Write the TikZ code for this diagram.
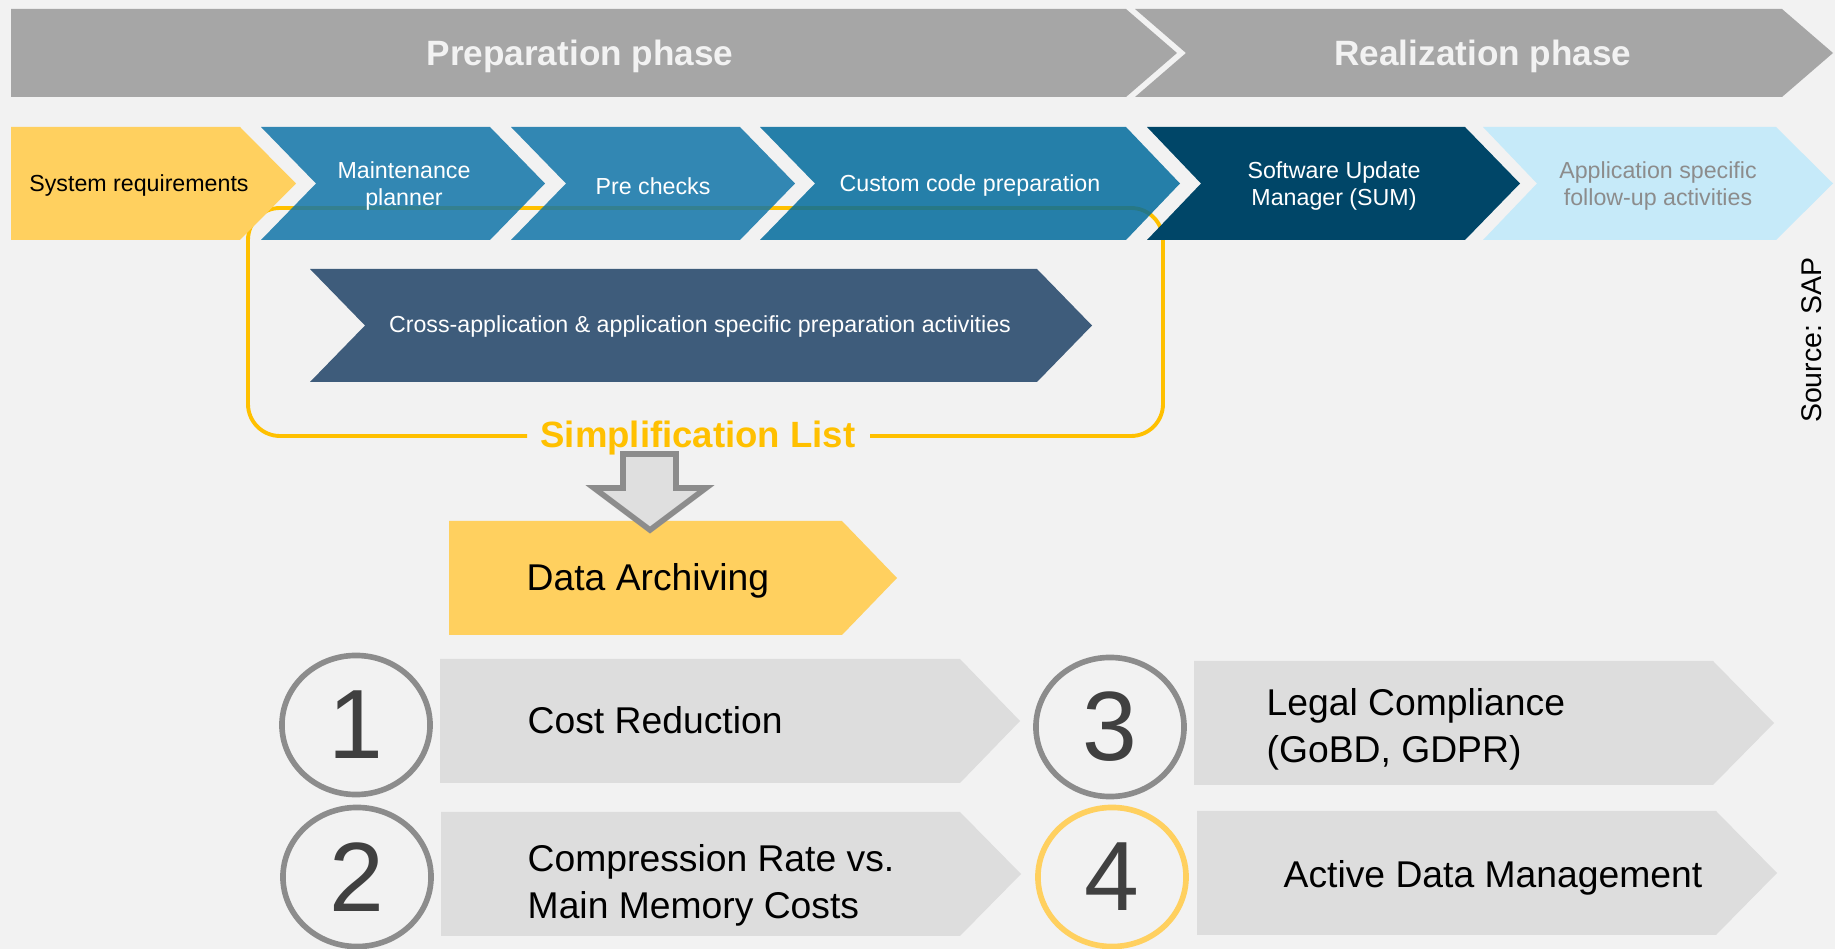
\documentclass[tikz,border=0pt]{standalone}
\usepackage{fontspec}
\setmainfont{Liberation Sans}
\usetikzlibrary{shapes.geometric}

\definecolor{bggray}{HTML}{F2F2F2}
\definecolor{phasegray}{HTML}{A6A6A6}
\definecolor{sapyellow}{HTML}{FFD05F}
\definecolor{stepblue}{HTML}{1175A9}
\definecolor{codeblue}{HTML}{026C9D}
\definecolor{sumblue}{HTML}{004668}
\definecolor{followblue}{HTML}{C6EAF9}
\definecolor{crossblue}{HTML}{3E5C7B}
\definecolor{framegold}{HTML}{FFC000}
\definecolor{ringgray}{HTML}{8C8C8C}
\definecolor{boxgray}{HTML}{DDDDDD}
\definecolor{digitgray}{HTML}{404040}

\tikzset{
    phaselabel/.style={font=\bfseries\fontsize{10}{12}\selectfont, text=bggray, inner sep=0pt},
    steplabel/.style={font=\fontsize{6.6}{7.7}\selectfont, text=white, align=center, inner sep=0pt},
    biglabel/.style={font=\fontsize{10.6}{13.4}\selectfont, align=left, anchor=west, inner sep=0pt},
    numring/.style={ellipse, draw=ringgray, line width=1.6pt, minimum width=1.48cm, minimum height=1.39cm, inner sep=0pt, font=\fontsize{28}{30}\selectfont, text=digitgray}
}

\begin{document}
\begin{tikzpicture}[x=0.01cm, y=-0.01cm]
    \useasboundingbox (0,0) rectangle (1835,949);
    \fill[bggray] (0,0) rectangle (1835,949);

    % phases
    \fill[phasegray] (11,9) -- (1126,9) -- (1177,53) -- (1126,97) -- (11,97) -- cycle;
    \fill[phasegray] (1135,9) -- (1782,9) -- (1833,53) -- (1782,97) -- (1135,97) -- (1186,53) -- cycle;
    \node [phaselabel] (prep) at (580,56) {Preparation phase};
    \node [phaselabel] (real) at (1483,56) {Realization phase};

    % simplification list frame
    \draw [framegold, line width=1.1pt, rounded corners=3.2mm] (527,436) -- (248,436) -- (248,208) -- (1163,208) -- (1163,436) -- (870,436);
    \node [font=\bfseries\fontsize{10.4}{12}\selectfont, text=framegold, inner sep=0pt] (simpl) at (698,438) {Simplification List};

    % steps
    \fill[sapyellow] (11,127) -- (240,127) -- (296,183.5) -- (240,240) -- (11,240) -- cycle;
    \fill[stepblue, fill opacity=0.85] (261,127) -- (490,127) -- (545,183.5) -- (490,240) -- (261,240) -- (316,183.5) -- cycle;
    \fill[stepblue, fill opacity=0.85] (511,127) -- (740,127) -- (795,183.5) -- (740,240) -- (511,240) -- (566,183.5) -- cycle;
    \fill[codeblue, fill opacity=0.85] (760,127) -- (1126,127) -- (1180,183.5) -- (1126,240) -- (760,240) -- (815,183.5) -- cycle;
    \fill[sumblue] (1147,127) -- (1465,127) -- (1520,183.5) -- (1465,240) -- (1147,240) -- (1201,183.5) -- cycle;
    \fill[followblue] (1483,127) -- (1776,127) -- (1833,183.5) -- (1776,240) -- (1483,240) -- (1537,183.5) -- cycle;
    \node [steplabel, text=black] (sysreq) at (139,186) {System requirements};
    \node [steplabel] (maint) at (404,186) {Maintenance\\planner};
    \node [steplabel] (prechk) at (653,186) {Pre checks};
    \node [steplabel] (custom) at (970,186) {Custom code preparation};
    \node [steplabel] (sum) at (1334,186) {Software Update\\Manager (SUM)};
    \node [steplabel, text=ringgray] (followup) at (1658,186) {Application specific\\follow-up activities};

    \fill[crossblue] (310,269) -- (1037,269) -- (1092,325.5) -- (1037,382) -- (310,382) -- (365,325.5) -- cycle;
    \node [steplabel] (cross) at (700,327) {Cross-application \& application specific preparation activities};

    \node [rotate=90, font=\fontsize{8.1}{9}\selectfont, inner sep=0pt] (source) at (1812,340) {Source: SAP};

    % data archiving
    \fill[sapyellow] (449,521) -- (842,521) -- (897,578) -- (842,635) -- (449,635) -- cycle;
    \node [biglabel] (archiving) at (526,581) {Data Archiving};
    \filldraw[fill=boxgray!95!white, draw=ringgray, line width=1.6pt] (623,454) -- (676,454) -- (676,488) -- (706,488) -- (650,530) -- (594,488) -- (623,488) -- cycle;

    % reasons
    \fill[boxgray] (440,659) -- (960,659) -- (1020,721) -- (960,783) -- (440,783) -- cycle;
    \fill[boxgray] (441,812) -- (960,812) -- (1021,874) -- (960,936) -- (441,936) -- cycle;
    \fill[boxgray] (1194,661) -- (1713,661) -- (1774,723) -- (1713,785) -- (1194,785) -- cycle;
    \fill[boxgray] (1197,811) -- (1716,811) -- (1777,873) -- (1716,935) -- (1197,935) -- cycle;

    \node [numring] (n1) at (356,725) {1};
    \node [numring] (n2) at (357,877) {2};
    \node [numring] (n3) at (1110,727) {3};
    \node [numring, draw=sapyellow] (n4) at (1112,877) {4};

    \node [biglabel] (cost) at (527,720) {Cost Reduction};
    \node [biglabel] (compr) at (527,885) {Compression Rate vs.\\Main Memory Costs};
    \node [biglabel] (legal) at (1266,729) {Legal Compliance\\(GoBD, GDPR)};
    \node [biglabel] (active) at (1283,878) {Active Data Management};
\end{tikzpicture}
\end{document}
